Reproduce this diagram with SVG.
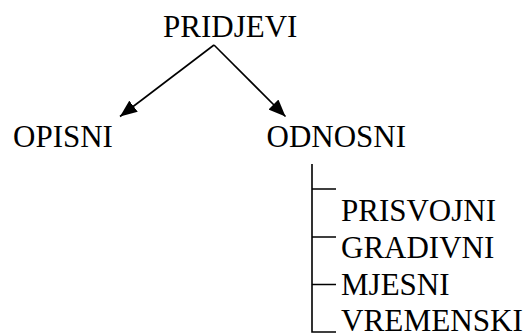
<svg xmlns="http://www.w3.org/2000/svg" width="527" height="333" viewBox="0 0 527 333">
<style>
text{font-family:"Liberation Serif","Times New Roman",serif;font-size:31px;fill:#000}
.ln{stroke:#000;stroke-width:1.6;fill:none}
</style>
<defs>
<marker id="ah" markerUnits="userSpaceOnUse" markerWidth="18" markerHeight="14" refX="17" refY="7" orient="auto">
<path d="M0,0 L17,7 L0,14 z" fill="#000"/>
</marker>
</defs>
<rect width="527" height="333" fill="#fff"/>
<g id="connectors">
<line class="ln" x1="214" y1="45" x2="120" y2="116.5" marker-end="url(#ah)"/>
<line class="ln" x1="214" y1="45" x2="285.5" y2="116.5" marker-end="url(#ah)"/>
<path class="ln" d="M312,164 V332 H336 M312,189 H336 M312,237 H336 M312,284.5 H336"/>
</g>
<g id="pridjevi"><text x="163" y="37">PRIDJEVI</text></g>
<g id="opisni"><text x="13" y="147">OPISNI</text></g>
<g id="odnosni"><text x="266.5" y="147">ODNOSNI</text></g>
<g id="prisvojni"><text x="341" y="221">PRISVOJNI</text></g>
<g id="gradivni"><text x="341" y="258">GRADIVNI</text></g>
<g id="mjesni"><text x="341" y="295">MJESNI</text></g>
<g id="vremenski"><text x="341" y="330.5" textLength="182" lengthAdjust="spacingAndGlyphs">VREMENSKI</text></g>
</svg>
